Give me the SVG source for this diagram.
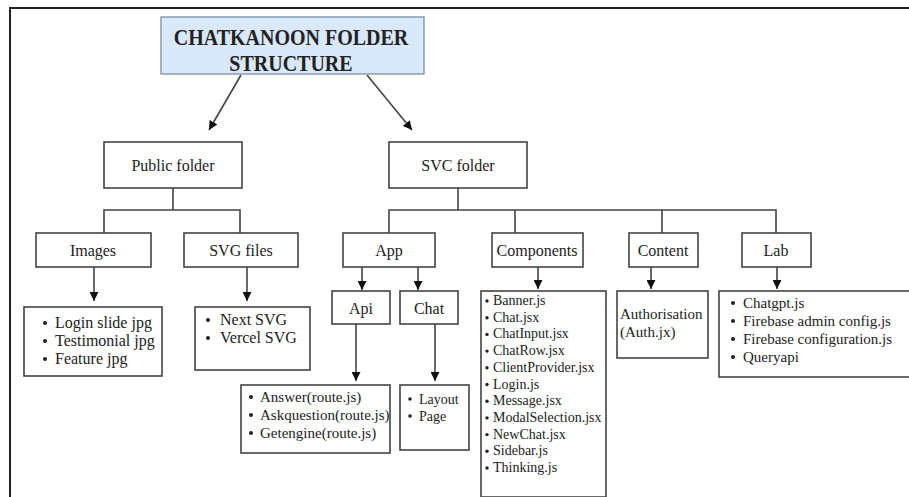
<svg xmlns="http://www.w3.org/2000/svg" width="909" height="497" viewBox="0 0 909 497">
<defs>
<marker id="ah" viewBox="0 0 10 10" refX="10" refY="5" markerWidth="9" markerHeight="9" markerUnits="userSpaceOnUse" orient="auto"><path d="M0,0 L10,5 L0,10 z" fill="#111"/></marker>
<style>
.box{fill:#fff;stroke:#444;stroke-width:1.6}
.title{fill:#dae8fc;stroke:#8a9bb5;stroke-width:1.5}
.ttl{font-family:"Liberation Serif","Times New Roman",serif;font-weight:bold;font-size:20px;fill:#222;text-anchor:middle}
.lbl{font-family:"Liberation Serif","Times New Roman",serif;font-size:16px;fill:#222;text-anchor:middle}
.li{font-family:"Liberation Serif","Times New Roman",serif;font-size:15px;fill:#222}
.li14{font-family:"Liberation Serif","Times New Roman",serif;font-size:14px;fill:#222}
.li16{font-family:"Liberation Serif","Times New Roman",serif;font-size:16px;fill:#222}
.ln{stroke:#444;stroke-width:1.6;fill:none}
.ar{stroke:#444;stroke-width:1.6;fill:none;marker-end:url(#ah)}
.dot{fill:#222}
</style>
</defs>
<rect width="909" height="497" fill="#fff"/>
<path d="M10,497 V8 H909" stroke="#222" stroke-width="2" fill="none"/>

<g id="connectors">
<line class="ar" x1="241" y1="75" x2="209" y2="130"/>
<line class="ar" x1="367" y1="75" x2="412" y2="130"/>
<path class="ln" d="M173,188 V210 M104,233 V210 H240 V233"/>
<path class="ln" d="M458,188 V210 M389,233 V210 H776 V233 M515,210 V233 M662,210 V233"/>
<line class="ar" x1="94" y1="267" x2="94" y2="301"/>
<line class="ar" x1="247" y1="267" x2="247" y2="301"/>
<line class="ar" x1="362" y1="267" x2="362" y2="290"/>
<line class="ar" x1="418" y1="267" x2="418" y2="290"/>
<line class="ar" x1="356" y1="324" x2="356" y2="381"/>
<line class="ar" x1="435" y1="324" x2="435" y2="381"/>
<line class="ar" x1="538" y1="267" x2="538" y2="289"/>
<line class="ar" x1="651" y1="267" x2="651" y2="289"/>
<line class="ar" x1="777" y1="267" x2="777" y2="289"/>
</g>

<g id="root">
<rect class="title" x="161" y="17" width="263" height="57"/>
<text class="ttl" transform="translate(291,45) scale(1,1.2)">CHATKANOON FOLDER</text>
<text class="ttl" transform="translate(291,71) scale(1,1.2)">STRUCTURE</text>
</g>

<g id="public-folder"><rect class="box" x="104" y="142" width="138" height="46"/><text class="lbl" x="173" y="171">Public folder</text></g>
<g id="svc-folder"><rect class="box" x="389" y="142" width="138" height="46"/><text class="lbl" x="458" y="171">SVC folder</text></g>

<g id="images"><rect class="box" x="36" y="233" width="115" height="34"/><text class="lbl" x="93" y="256">Images</text></g>
<g id="svg-files"><rect class="box" x="184" y="233" width="114" height="34"/><text class="lbl" x="241" y="256">SVG files</text></g>
<g id="app"><rect class="box" x="343" y="233" width="92" height="34"/><text class="lbl" x="389" y="256">App</text></g>
<g id="components"><rect class="box" x="492" y="233" width="91" height="34"/><text class="lbl" x="537" y="256">Components</text></g>
<g id="content"><rect class="box" x="629" y="233" width="69" height="34"/><text class="lbl" x="663" y="256">Content</text></g>
<g id="lab"><rect class="box" x="742" y="233" width="69" height="34"/><text class="lbl" x="776" y="256">Lab</text></g>

<g id="images-list"><rect class="box" x="24" y="307" width="138" height="69"/>
<circle class="dot" cx="45" cy="323" r="2"/><text class="li16" x="55" y="328">Login slide jpg</text>
<circle class="dot" cx="45" cy="341" r="2"/><text class="li16" x="55" y="346">Testimonial jpg</text>
<circle class="dot" cx="45" cy="359" r="2"/><text class="li16" x="55" y="364">Feature jpg</text>
</g>
<g id="svg-list"><rect class="box" x="195" y="307" width="115" height="63"/>
<circle class="dot" cx="208" cy="320" r="2"/><text class="li16" x="220" y="325">Next SVG</text>
<circle class="dot" cx="208" cy="338" r="2"/><text class="li16" x="220" y="343">Vercel SVG</text>
</g>

<g id="api"><rect class="box" x="332" y="291" width="58" height="33"/><text class="lbl" x="361" y="314">Api</text></g>
<g id="chat"><rect class="box" x="400" y="291" width="58" height="33"/><text class="lbl" x="429" y="314">Chat</text></g>

<g id="api-list"><rect class="box" x="241" y="385" width="149" height="68"/>
<circle class="dot" cx="251" cy="397" r="2"/><text class="li" x="260" y="402">Answer(route.js)</text>
<circle class="dot" cx="251" cy="415" r="2"/><text class="li" x="260" y="420">Askquestion(route.js)</text>
<circle class="dot" cx="251" cy="433" r="2"/><text class="li" x="260" y="438">Getengine(route.js)</text>
</g>
<g id="chat-list"><rect class="box" x="400" y="385" width="69" height="65"/>
<circle class="dot" cx="410" cy="399" r="1.8"/><text class="li14" x="419" y="404">Layout</text>
<circle class="dot" cx="410" cy="416" r="1.8"/><text class="li14" x="419" y="421">Page</text>
</g>

<g id="components-list"><rect class="box" x="481" y="291" width="125" height="206"/>
<circle class="dot" cx="487" cy="301" r="1.7"/><text class="li14" x="493" y="305">Banner.js</text>
<circle class="dot" cx="487" cy="317.7" r="1.7"/><text class="li14" x="493" y="321.7">Chat.jsx</text>
<circle class="dot" cx="487" cy="334.4" r="1.7"/><text class="li14" x="493" y="338.4">ChatInput.jsx</text>
<circle class="dot" cx="487" cy="351.1" r="1.7"/><text class="li14" x="493" y="355.1">ChatRow.jsx</text>
<circle class="dot" cx="487" cy="367.8" r="1.7"/><text class="li14" x="493" y="371.8">ClientProvider.jsx</text>
<circle class="dot" cx="487" cy="384.5" r="1.7"/><text class="li14" x="493" y="388.5">Login.js</text>
<circle class="dot" cx="487" cy="401.2" r="1.7"/><text class="li14" x="493" y="405.2">Message.jsx</text>
<circle class="dot" cx="487" cy="417.9" r="1.7"/><text class="li14" x="493" y="421.9">ModalSelection.jsx</text>
<circle class="dot" cx="487" cy="434.6" r="1.7"/><text class="li14" x="493" y="438.6">NewChat.jsx</text>
<circle class="dot" cx="487" cy="451.3" r="1.7"/><text class="li14" x="493" y="455.3">Sidebar.js</text>
<circle class="dot" cx="487" cy="468" r="1.7"/><text class="li14" x="493" y="472">Thinking.js</text>
</g>

<g id="content-list"><rect class="box" x="617" y="291" width="91" height="67"/>
<text class="li" x="620" y="319">Authorisation</text>
<text class="li" x="620" y="337">(Auth.jx)</text>
</g>

<g id="lab-list"><rect class="box" x="719" y="291" width="200" height="86"/>
<circle class="dot" cx="733" cy="303" r="2"/><text class="li" x="743" y="308">Chatgpt.js</text>
<circle class="dot" cx="733" cy="321" r="2"/><text class="li" x="743" y="326">Firebase admin config.js</text>
<circle class="dot" cx="733" cy="339" r="2"/><text class="li" x="743" y="344">Firebase configuration.js</text>
<circle class="dot" cx="733" cy="357" r="2"/><text class="li" x="743" y="362">Queryapi</text>
</g>
</svg>
